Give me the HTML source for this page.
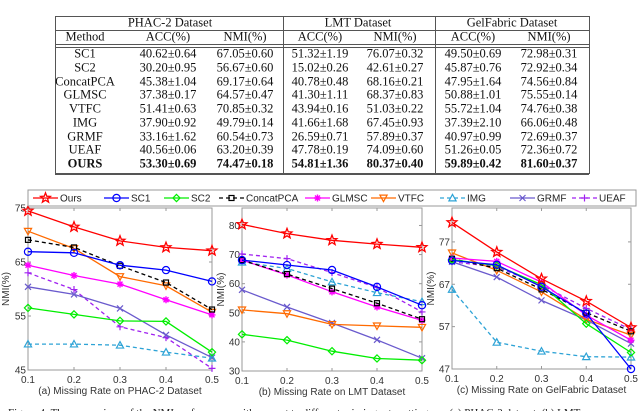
<!DOCTYPE html>
<html><head><meta charset="utf-8"><style>
body{margin:0;width:640px;height:411px;overflow:hidden;background:#fff;position:relative;font-family:"Liberation Serif",serif}
.t{position:absolute;font-size:12.5px;color:#111;transform:translate(-50%,-50%);white-space:nowrap}
.b{font-weight:bold}
.hl{position:absolute;background:#555;height:1px}
.vl{position:absolute;background:#555;width:1px}
svg{position:absolute;left:0;top:0}
</style></head><body>
<div id="table"></div>
<svg id="ch" width="640" height="411"></svg>
<script>
const xs=[0.1,0.2,0.3,0.4,0.5];
const methods=["Ours","SC1","SC2","ConcatPCA","GLMSC","VTFC","IMG","GRMF","UEAF"];
// chart a (PHAC-2)
const aOurs=[74.47,71.5,68.9,67.7,67.1];
const aSC1=[66.9,66.7,64.4,63.5,61.4];
const aSC2=[56.5,55.3,54.1,54.0,48.3];
const aConcat=[69.1,67.7,64.3,61.2,56.2];
const aGLMSC=[64.4,62.5,60.9,58.0,55.2];
const aVTFC=[70.7,67.5,62.3,60.6,55.7];
const aIMG=[49.8,49.8,49.6,48.3,47.2];
const aGRMF=[60.4,59.0,56.4,51.5,47.3];
const aUEAF=[63.0,59.9,53.0,51.0,45.3];
// chart b (LMT)
const bOurs=[80.37,77.2,74.9,73.6,72.5];
const bSC1=[68.1,66.4,64.7,58.9,52.6];
const bSC2=[42.6,40.6,36.8,34.3,33.7];
const bConcat=[68.1,63.3,58.3,53.3,47.8];
const bGLMSC=[68.1,63.0,57.2,52.0,47.4];
const bVTFC=[51.0,49.7,46.0,45.5,45.0];
const bIMG=[67.4,65.2,60.6,56.9,53.8];
const bGRMF=[57.9,52.0,46.5,40.7,34.4];
const bUEAF=[70.2,68.6,63.8,58.7,50.3];
// chart c (GelFabric)
const cOurs=[81.6,74.6,68.3,63.0,56.8];
const cSC1=[72.6,71.6,66.4,60.1,47.0];
const cSC2=[72.8,71.4,66.9,57.7,50.9];
const cConcat=[73.0,70.8,65.8,60.3,55.9];
const cGLMSC=[73.2,72.4,67.5,59.7,53.8];
const cVTFC=[74.4,70.3,65.2,58.7,55.0];
const cIMG=[65.8,53.3,51.2,49.9,49.8];
const cGRMF=[72.3,68.7,63.2,58.6,53.0];
const cUEAF=[72.3,71.1,66.8,61.3,56.3];
const aTicks=[45,55,65,75];
const bTicks=[30,40,50,60,70,80];
const cTicks=[47,57,67,77];
const xTickLabels=["0.1","0.2","0.3","0.4","0.5"];

// table
const tblHead=["Method","ACC(%)","NMI(%)","ACC(%)","NMI(%)","ACC(%)","NMI(%)"];
const tblRows=[
["SC1","40.62±0.64","67.05±0.60","51.32±1.19","76.07±0.32","49.50±0.69","72.98±0.31"],
["SC2","30.20±0.95","56.67±0.60","15.02±0.26","42.61±0.27","45.87±0.76","72.92±0.34"],
["ConcatPCA","45.38±1.04","69.17±0.64","40.78±0.48","68.16±0.21","47.95±1.64","74.56±0.84"],
["GLMSC","37.38±0.17","64.57±0.47","41.30±1.11","68.37±0.83","50.88±1.01","75.55±0.14"],
["VTFC","51.41±0.63","70.85±0.32","43.94±0.16","51.03±0.22","55.72±1.04","74.76±0.38"],
["IMG","37.90±0.92","49.79±0.14","41.66±1.68","67.45±0.93","37.39±2.10","66.06±0.48"],
["GRMF","33.16±1.62","60.54±0.73","26.59±0.71","57.89±0.37","40.97±0.99","72.69±0.37"],
["UEAF","40.56±0.06","63.20±0.39","47.78±0.19","74.09±0.60","51.26±0.05","72.36±0.72"],
["OURS","53.30±0.69","74.47±0.18","54.81±1.36","80.37±0.40","59.89±0.42","81.60±0.37"]];
const tbl=document.getElementById('table');
const colX=[85,168,245,320,395,473,549];
function div(cls,style,txt){const d=document.createElement('div');d.className=cls;d.style.cssText=style;if(txt!=null)d.textContent=txt;tbl.appendChild(d);return d;}
[[55,16,534],[55,30,534],[55,44,534],[55,47,534],[55,173,534],[55,174,534]].forEach(l=>{const d=div('hl',`left:${l[0]}px;top:${l[1]}px;width:${l[2]}px`);

});
[[55,16,158],[589,16,158],[283,16,158],[435,16,158]].forEach(l=>{const d=div('vl',`left:${l[0]}px;top:${l[1]}px;height:${l[2]}px`);

});
[["PHAC-2 Dataset",170],["LMT Dataset",358],["GelFabric Dataset",512]].forEach(h=>{const d=div('t',`left:${h[1]}px;top:23px`,h[0]);

});
tblHead.forEach((h,i)=>{const d=div('t',`left:${colX[i]}px;top:37px`,h);

});
tblRows.forEach((r,ri)=>r.forEach((c,ci)=>{const d=div('t'+(ri==8?' b':''),`left:${colX[ci]}px;top:${54+ri*13.75}px`,c);

}));

// charts
const NS='http://www.w3.org/2000/svg';
const svg=document.getElementById('ch');
function el(tag,attrs,parent){const e=document.createElementNS(NS,tag);for(const k in attrs)e.setAttribute(k,attrs[k]);(parent||svg).appendChild(e);return e;}
const colors={Ours:'#ff0000',SC1:'#0000ff',SC2:'#00ee00',ConcatPCA:'#000000',GLMSC:'#ff00ff',VTFC:'#ff6a00',IMG:'#2ea3d6',GRMF:'#6a5acd',UEAF:'#a020f0'};
const dashed={ConcatPCA:'4,3',IMG:'4,3',UEAF:'4,3'};
const markers={Ours:'star',SC1:'circle',SC2:'diamond',ConcatPCA:'square',GLMSC:'ast',VTFC:'dtri',IMG:'tri',GRMF:'x',UEAF:'plus'};
function marker(g,type,x,y,c){
 const s=3.6;
 if(type=='circle')el('circle',{cx:x,cy:y,r:s,fill:'none',stroke:c,'stroke-width':1.2},g);
 else if(type=='square')el('rect',{x:x-2.5,y:y-2.5,width:5,height:5,fill:'none',stroke:c,'stroke-width':1.2},g);
 else if(type=='diamond')el('polygon',{points:`${x},${y-s} ${x+s},${y} ${x},${y+s} ${x-s},${y}`,fill:'none',stroke:c,'stroke-width':1.2},g);
 else if(type=='tri')el('polygon',{points:`${x},${y-s} ${x+s},${y+s*0.8} ${x-s},${y+s*0.8}`,fill:'none',stroke:c,'stroke-width':1.2},g);
 else if(type=='dtri')el('polygon',{points:`${x},${y+s} ${x+s},${y-s*0.8} ${x-s},${y-s*0.8}`,fill:'none',stroke:c,'stroke-width':1.2},g);
 else if(type=='star'){let p=[];for(let i=0;i<10;i++){const r=i%2?2.2:5.2,a=-Math.PI/2+i*Math.PI/5;p.push((x+r*Math.cos(a)).toFixed(1)+','+(y+r*Math.sin(a)).toFixed(1));}
  el('polygon',{points:p.join(' '),fill:'none',stroke:c,'stroke-width':1.3},g);}
 else if(type=='x'){el('path',{d:`M${x-3} ${y-3}L${x+3} ${y+3}M${x-3} ${y+3}L${x+3} ${y-3}`,stroke:c,'stroke-width':1.2},g);}
 else if(type=='plus'){el('path',{d:`M${x-3.5} ${y}L${x+3.5} ${y}M${x} ${y-3.5}L${x} ${y+3.5}`,stroke:c,'stroke-width':1.2},g);}
 else if(type=='ast'){el('path',{d:`M${x-3.5} ${y}L${x+3.5} ${y}M${x} ${y-3.5}L${x} ${y+3.5}M${x-2.5} ${y-2.5}L${x+2.5} ${y+2.5}M${x-2.5} ${y+2.5}L${x+2.5} ${y-2.5}`,stroke:c,'stroke-width':1.4},g);}
}
function chart(name,L,R,T,B,ymin,ymax,ticks,series,xlabel,ylabX){
 const g=el('g',{});
 
 
 const sx=v=>L+(v-0.1)/0.4*(R-L);
 const sy=v=>B-(v-ymin)/(ymax-ymin)*(B-T);
 const ax=el('rect',{x:L,y:T,width:R-L,height:B-T,fill:'none',stroke:'#999','stroke-width':1},g);
 
 
 ticks.forEach(t=>{const y=sy(t);
  el('line',{x1:L,x2:L+3,y1:y,y2:y,stroke:'#999'},g);el('line',{x1:R,x2:R-3,y1:y,y2:y,stroke:'#999'},g);
  const tx=el('text',{x:L-2,y:y+3.5,'text-anchor':'end','font-size':10,fill:'#333','font-family':'Liberation Sans, sans-serif'},g);tx.textContent=t;
  
  });
 xs.forEach((v,i)=>{const x=sx(v);
  el('line',{x1:x,x2:x,y1:B,y2:B-3,stroke:'#999'},g);el('line',{x1:x,x2:x,y1:T,y2:T+3,stroke:'#999'},g);
  const tx=el('text',{x:x,y:B+13,'text-anchor':'middle','font-size':10,fill:'#333','font-family':'Liberation Sans, sans-serif'},g);tx.textContent=xTickLabels[i];
  
  });
 const xl=el('text',{x:(L+R)/2,y:B+24,'text-anchor':'middle','font-size':10,fill:'#333','font-family':'Liberation Sans, sans-serif'},g);xl.textContent=xlabel;
 
 
 const yl=el('text',{x:0,y:0,transform:`translate(${ylabX},${(T+B)/2}) rotate(-90)`,'text-anchor':'middle','font-size':10,fill:'#333','font-family':'Liberation Sans, sans-serif'},g);yl.textContent='NMI(%)';
 
 
 series.slice().reverse().forEach(([m,vals])=>{
  const c=colors[m];
  const sg=el('g',{},g);
  
  
  const pts=vals.map((v,i)=>sx(xs[i]).toFixed(1)+','+sy(v).toFixed(1)).join(' ');
  const a={points:pts,fill:'none',stroke:c,'stroke-width':1.3};
  if(dashed[m])a['stroke-dasharray']=dashed[m];
  el('polyline',a,sg);
  vals.forEach((v,i)=>marker(sg,markers[m],sx(xs[i]),sy(v),c));
 });
}
chart('chart-phac2',28,212,208,370,45,75,aTicks,[["Ours",aOurs],["SC1",aSC1],["SC2",aSC2],["ConcatPCA",aConcat],["GLMSC",aGLMSC],["VTFC",aVTFC],["IMG",aIMG],["GRMF",aGRMF],["UEAF",aUEAF]],'(a) Missing Rate on PHAC-2 Dataset',9);
chart('chart-lmt',242,422,208,371,30,86,bTicks,[["Ours",bOurs],["SC1",bSC1],["SC2",bSC2],["ConcatPCA",bConcat],["GLMSC",bGLMSC],["VTFC",bVTFC],["IMG",bIMG],["GRMF",bGRMF],["UEAF",bUEAF]],'(b) Missing Rate on LMT Dataset',224);
chart('chart-gelfabric',452,631,208,369,47,85,cTicks,[["Ours",cOurs],["SC1",cSC1],["SC2",cSC2],["ConcatPCA",cConcat],["GLMSC",cGLMSC],["VTFC",cVTFC],["IMG",cIMG],["GRMF",cGRMF],["UEAF",cUEAF]],'(c) Missing Rate on GelFabric Dataset',434);

// legend
const lg=el('g',{});


el('rect',{x:28,y:190,width:608,height:16,fill:'#fff',stroke:'#999'},lg);
const legX=[33,104,164,219,305,371,440,510,572];
methods.forEach((m,i)=>{
 const e=el('g',{},lg);
 
 
 const x=legX[i],y=198,c=colors[m];
 const a={x1:x,x2:x+25,y1:y,y2:y,stroke:c,'stroke-width':1.3};if(dashed[m])a['stroke-dasharray']=dashed[m];
 el('line',a,e);marker(e,markers[m],x+12.5,y,c);
 const t=el('text',{x:x+27,y:y+3.5,'font-size':10,fill:'#222','font-family':'Liberation Sans, sans-serif'},e);t.textContent=m;
});
// caption
const cap=el('text',{x:8,y:416,'font-size':11,fill:'#222','font-family':'Liberation Serif, serif'});
cap.textContent='Figure 4: The comparison of the NMI performance with respect to different missing rate settings on (a) PHAC-2 dataset, (b) LMT';


</script>
</body></html>
